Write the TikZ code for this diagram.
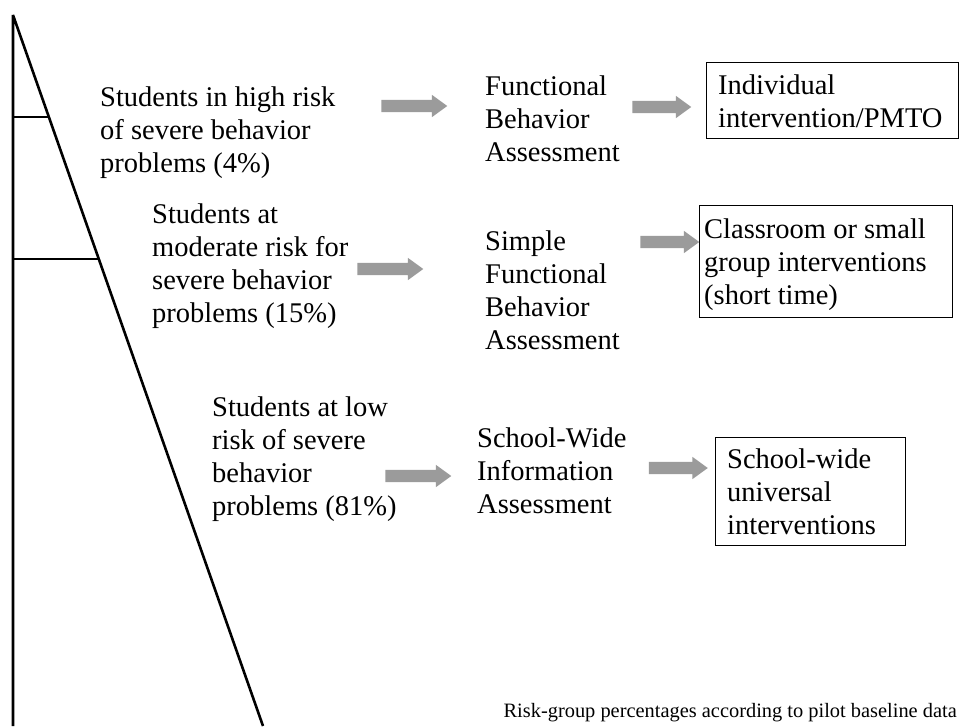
\documentclass[tikz,border=0pt]{standalone}
\usepackage{fontspec}
\setmainfont{Liberation Serif}
\usetikzlibrary{shapes.arrows}
\definecolor{arrowgray}{RGB}{155,155,155}
\newcommand\bodyfont{\fontsize{28.5}{33}\selectfont}
\newcommand\notefont{\fontsize{20.4}{24}\selectfont}
\begin{document}
\begin{tikzpicture}[x=1pt,y=-1pt,
  txt/.style={anchor=north west, inner sep=0pt, align=left, font=\bodyfont},
  boxed/.style={draw=black, line width=1pt},
  blockarrow/.style={single arrow, fill=arrowgray, draw=none, inner xsep=0pt, inner ysep=6pt,
    single arrow head extend=5pt, single arrow tip angle=72, anchor=center, minimum height=#1},
  pyramid/.style={line width=2.6pt, line join=bevel}]
\useasboundingbox (0,0) rectangle (961,726);
% pyramid
\coordinate (apex) at (13,15);
\coordinate (bl) at (13,726);
\coordinate (br) at (263,726);
\draw[pyramid] (bl) -- (apex) -- (br);
\path (apex) -- (br) coordinate[pos=0.1447] (d1) coordinate[pos=0.3441] (d2);
\coordinate (l1) at (13,117);
\coordinate (l2) at (13,259);
\draw[pyramid] (l1) -- (d1 |- l1);
\draw[pyramid] (l2) -- (d2 |- l2);
% row 1  (north y = first baseline - 23.1)
\node[txt] (L1) at (100,82.9) {\strut Students in high risk\\of severe behavior\\problems (4\%)};
\node[blockarrow=66pt] (a1) at (410,106) {};
\node[txt] (M1) at (485,71.9) {\strut Functional\\Behavior\\Assessment};
\node[blockarrow=59pt] (a2) at (657.5,107) {};
\draw[boxed] (706,62) rectangle (958,138);
\node[txt] (R1) at (718,70.9) {\strut Individual\\intervention/PMTO};
% row 2
\node[txt] (L2) at (152,199.9) {\strut Students at\\moderate risk for\\severe behavior\\problems (15\%)};
\node[blockarrow=66pt] (a3) at (386,269) {};
\node[txt] (M2) at (485,226.9) {\strut Simple\\Functional\\Behavior\\Assessment};
\node[blockarrow=59pt] (a4) at (665.5,242) {};
\draw[boxed] (699,205) rectangle (952,317);
\node[txt] (R2) at (704,214.9) {\strut Classroom or small\\group interventions\\(short time)};
% row 3
\node[txt] (L3) at (212,392.9) {\strut Students at low\\risk of severe\\behavior\\problems (81\%)};
\node[blockarrow=66pt] (a5) at (414,476) {};
\node[txt] (M3) at (477,423.9) {\strut School-Wide\\Information\\Assessment};
\node[blockarrow=59pt] (a6) at (674,468) {};
\draw[boxed] (715,437) rectangle (905,545);
\node[txt] (R3) at (727,444.9) {\strut School-wide\\universal\\interventions};
% note
\node[anchor=base east, inner sep=0pt, font=\notefont] (note) at (957,717) {Risk-group percentages according to pilot baseline data};
\end{tikzpicture}
\end{document}
